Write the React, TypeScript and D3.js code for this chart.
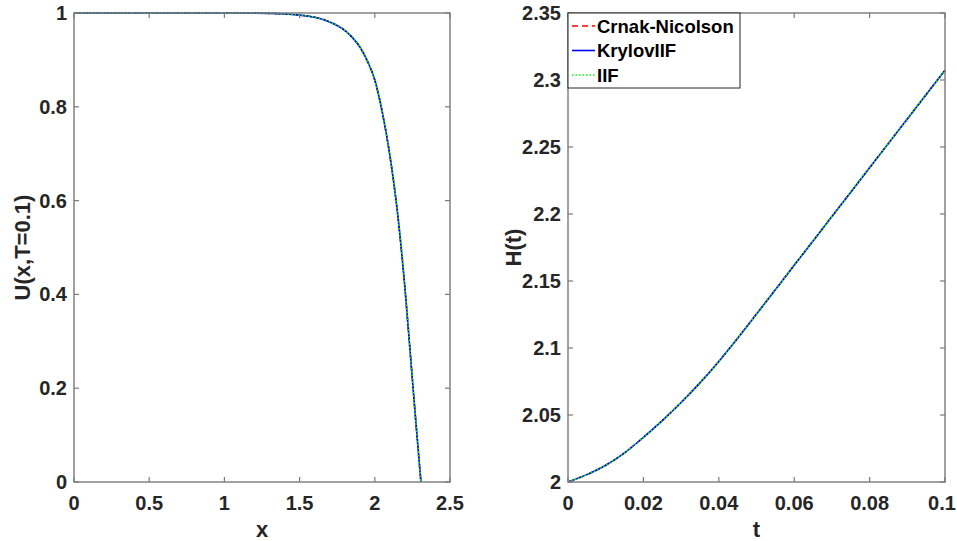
import React from "react";
import * as d3 from "d3";

// Left panel: U(x, T=0.1)
const xValues = [0, 0.5, 1.0, 1.2, 1.4, 1.5, 1.6, 1.7, 1.8, 1.85, 1.9, 1.95, 2.0, 2.05, 2.1, 2.15, 2.2, 2.25, 2.3, 2.307];
const uValues = [1, 1, 1, 0.9997, 0.998, 0.9955, 0.991, 0.981, 0.963, 0.948, 0.928, 0.898, 0.857, 0.788, 0.697, 0.577, 0.415, 0.218, 0.025, 0.0];

// Right panel: H(t)
const tValues = [0, 0.005, 0.01, 0.015, 0.02, 0.025, 0.03, 0.035, 0.04, 0.045, 0.05, 0.06, 0.07, 0.08, 0.09, 0.1];
const hValues = [2, 2.0055, 2.0125, 2.0218, 2.0333, 2.0458, 2.0593, 2.074, 2.09, 2.1073, 2.1253, 2.1617, 2.1981, 2.2345, 2.2709, 2.3073];

const leftXTicks = [0, 0.5, 1, 1.5, 2, 2.5];
const leftYTicks = [0, 0.2, 0.4, 0.6, 0.8, 1];
const rightXTicks = [0, 0.02, 0.04, 0.06, 0.08, 0.1];
const rightYTicks = [2, 2.05, 2.1, 2.15, 2.2, 2.25, 2.3, 2.35];

const seriesNames = ["Crnak-Nicolson", "KrylovIIF", "IIF"];
const seriesColors = ["#ff0000", "#0000ff", "#00ff00"];
const seriesDash = ["6,4", "none", "1.5,2"];

const FONT = "'Liberation Sans', Arial, Helvetica, sans-serif";
const AXIS = "#7a7a7a";
const TEXT = "#262626";
const W = 957;
const H = 541;

type PanelProps = {
  x0: number; x1: number; y0: number; y1: number;
  xDomain: [number, number]; yDomain: [number, number];
  xTicks: number[]; yTicks: number[];
  xs: number[]; ys: number[];
  xLabel: string; yLabel: string; yLabelX: number;
  fmtX: (v: number) => string; fmtY: (v: number) => string;
  legend?: boolean;
};

function Panel(p: PanelProps) {
  const xs = d3.scaleLinear().domain(p.xDomain).range([p.x0, p.x1]);
  const ys = d3.scaleLinear().domain(p.yDomain).range([p.y1, p.y0]);
  const pts: [number, number][] = p.xs.map((v, i) => [v, p.ys[i]]);
  const line = d3
    .line<[number, number]>()
    .x((d) => xs(d[0]))
    .y((d) => ys(d[1]))
    .curve(d3.curveMonotoneX);
  const path = line(pts) || "";
  const tl = 5;
  return (
    <g>
      {seriesNames.map((n, i) => (
        <path
          key={n}
          d={path}
          fill="none"
          stroke={seriesColors[i]}
          strokeWidth={1.6}
          strokeDasharray={seriesDash[i]}
        />
      ))}
      <rect x={p.x0} y={p.y0} width={p.x1 - p.x0} height={p.y1 - p.y0} fill="none" stroke={AXIS} strokeWidth={1.4} />
      {p.xTicks.map((t) => (
        <g key={"xt" + t}>
          <line x1={xs(t)} x2={xs(t)} y1={p.y1} y2={p.y1 - tl} stroke={AXIS} strokeWidth={1.2} />
          <line x1={xs(t)} x2={xs(t)} y1={p.y0} y2={p.y0 + tl} stroke={AXIS} strokeWidth={1.2} />
          <text x={Math.min(xs(t), W - 15)} y={p.y1 + 28} textAnchor="middle" fontSize={20} fontWeight="bold" fill={TEXT} fontFamily={FONT}>
            {p.fmtX(t)}
          </text>
        </g>
      ))}
      {p.yTicks.map((t) => (
        <g key={"yt" + t}>
          <line x1={p.x0} x2={p.x0 + tl} y1={ys(t)} y2={ys(t)} stroke={AXIS} strokeWidth={1.2} />
          <line x1={p.x1} x2={p.x1 - tl} y1={ys(t)} y2={ys(t)} stroke={AXIS} strokeWidth={1.2} />
          <text x={p.x0 - 7} y={ys(t) + 7} textAnchor="end" fontSize={20} fontWeight="bold" fill={TEXT} fontFamily={FONT}>
            {p.fmtY(t)}
          </text>
        </g>
      ))}
      <text x={(p.x0 + p.x1) / 2} y={537} textAnchor="middle" fontSize={22} fontWeight="bold" fill={TEXT} fontFamily={FONT}>
        {p.xLabel}
      </text>
      <text
        transform={`translate(${p.yLabelX},${(p.y0 + p.y1) / 2}) rotate(-90)`}
        textAnchor="middle"
        fontSize={22}
        fontWeight="bold"
        fill={TEXT}
        fontFamily={FONT}
      >
        {p.yLabel}
      </text>
      {p.legend && (
        <g>
          <rect x={p.x0} y={p.y0} width={172} height={75} fill="#ffffff" stroke={TEXT} strokeWidth={1} />
          {seriesNames.map((n, i) => {
            const cy = p.y0 + 13 + i * 24.5;
            return (
              <g key={"lg" + n}>
                <line x1={p.x0 + 4} x2={p.x0 + 27} y1={cy} y2={cy} stroke={seriesColors[i]} strokeWidth={1.6} strokeDasharray={seriesDash[i]} />
                <text x={p.x0 + 29} y={cy + 6.5} fontSize={18.5} fontWeight="bold" fill="#000" fontFamily={FONT}>
                  {n}
                </text>
              </g>
            );
          })}
        </g>
      )}
    </g>
  );
}

const fmt = (v: number) => String(+v.toFixed(4));

export default function App() {
  return (
    <svg width={W} height={H} style={{ position: "absolute", left: 0, top: 0, background: "#fff" }}>
      <rect x={0} y={0} width={W} height={H} fill="#fff" />
      <Panel
        x0={74} x1={450} y0={13} y1={482}
        xDomain={[0, 2.5]} yDomain={[0, 1]}
        xTicks={leftXTicks} yTicks={leftYTicks}
        xs={xValues} ys={uValues}
        xLabel="x" yLabel="U(x,T=0.1)" yLabelX={30}
        fmtX={fmt} fmtY={fmt}
      />
      <Panel
        x0={568} x1={945} y0={13} y1={482}
        xDomain={[0, 0.1]} yDomain={[2, 2.35]}
        xTicks={rightXTicks} yTicks={rightYTicks}
        xs={tValues} ys={hValues}
        xLabel="t" yLabel="H(t)" yLabelX={521}
        fmtX={fmt} fmtY={fmt}
        legend
      />
    </svg>
  );
}
